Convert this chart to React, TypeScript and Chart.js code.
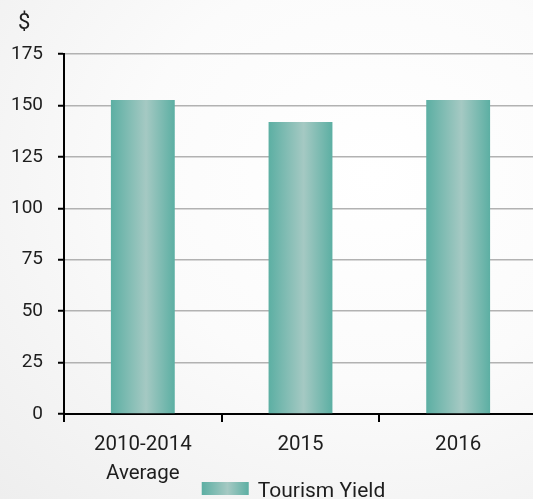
import { useEffect, useRef } from "react";
import { Chart, registerables } from "chart.js";

Chart.register(...registerables);

const categories: (string | string[])[] = [["2010-2014", "Average"], "2015", "2016"];
const yieldValues = [152.6, 141.9, 152.6];
const seriesLabel = "Tourism Yield";
const yUnit = "$";
const yMax = 175;
const yStep = 25;

const EDGE = "#5cafa3";
const MID = "#a5c9c3";
const BAR_PCT = 0.405;
const FONT = "Roboto";
const TEXT = "#1e1e1e";

function makeGradient(ctx: CanvasRenderingContext2D, x0: number, x1: number) {
  const g = ctx.createLinearGradient(x0, 0, x1, 0);
  g.addColorStop(0, EDGE);
  g.addColorStop(0.55, MID);
  g.addColorStop(1, EDGE);
  return g;
}

const overlay = {
  id: "overlay",
  afterDraw(chart: any) {
    const ctx = chart.ctx as CanvasRenderingContext2D;
    const area = chart.chartArea;
    const xs = chart.scales.x;
    ctx.save();
    // category boundary ticks below the x axis
    const catW = xs.width / categories.length;
    ctx.strokeStyle = "#000";
    ctx.lineWidth = 2;
    for (let i = 0; i < categories.length; i++) {
      const x = Math.round(xs.getPixelForValue(i) - catW / 2);
      ctx.beginPath();
      ctx.moveTo(x, area.bottom);
      ctx.lineTo(x, area.bottom + 8);
      ctx.stroke();
    }
    ctx.fillStyle = TEXT;
    ctx.font = `22px ${FONT}`;
    ctx.textBaseline = "alphabetic";
    ctx.textAlign = "left";
    ctx.fillText(yUnit, 18, 29);
    // legend
    ctx.font = `21px ${FONT}`;
    const tw = ctx.measureText(seriesLabel).width;
    const boxW = 47, boxH = 13, gap = 9;
    const total = boxW + gap + tw;
    const cx = (area.left + area.right) / 2 - 7;
    const x0 = cx - total / 2;
    const by = 482;
    ctx.fillStyle = makeGradient(ctx, x0, x0 + boxW);
    ctx.fillRect(x0, by, boxW, boxH);
    ctx.fillStyle = TEXT;
    ctx.fillText(seriesLabel, x0 + boxW + gap, 497);
    ctx.restore();
  },
};

export default function App() {
  const ref = useRef<HTMLCanvasElement | null>(null);
  useEffect(() => {
    if (!ref.current) return;
    const chart = new Chart(ref.current, {
      type: "bar",
      data: {
        labels: categories,
        datasets: [
          {
            label: seriesLabel,
            data: yieldValues,
            barPercentage: BAR_PCT,
            categoryPercentage: 1,
            backgroundColor: (c: any) => {
              const ch = c.chart;
              const xs = ch.scales?.x;
              if (!xs || c.dataIndex == null || !xs.width) return EDGE;
              const center = xs.getPixelForValue(c.dataIndex);
              const w = (xs.width / categories.length) * BAR_PCT;
              return makeGradient(ch.ctx, center - w / 2, center + w / 2);
            },
            borderWidth: 0,
          },
        ],
      },
      options: {
        responsive: false,
        animation: false,
        layout: { padding: { top: 54, right: 0, bottom: 0, left: 0 } },
        plugins: {
          legend: { display: false },
          tooltip: { enabled: false },
        },
        scales: {
          x: {
            afterFit: (s: any) => {
              s.height = 85;
            },
            border: { display: true, color: "#000", width: 2 },
            grid: {
              display: false,
              drawOnChartArea: false,
              drawTicks: false,
              tickLength: 8,
              offset: true,
            },
            ticks: {
              color: TEXT,
              font: { family: FONT, size: 20.5, lineHeight: 1.4 },
              padding: 17,
              maxRotation: 0,
            },
          },
          y: {
            min: 0,
            max: yMax,
            afterFit: (s: any) => {
              s.width = 64;
            },
            border: { color: "#000", width: 2 },
            grid: {
              color: "#b2b2b2",
              lineWidth: 1.5,
              tickLength: 6,
              tickColor: "#000",
              tickWidth: 2,
            },
            ticks: {
              stepSize: yStep,
              color: TEXT,
              font: { family: FONT, size: 19 },
              padding: 15,
            },
          },
        },
      },
      plugins: [overlay],
    });
    return () => chart.destroy();
  }, []);
  return (
    <div
      style={{
        position: "absolute",
        left: 0,
        top: 0,
        width: 533,
        height: 499,
        overflow: "hidden",
        background:
          "radial-gradient(ellipse at 70% 35%, #ffffff 0%, #fbfbfb 45%, #eeeeee 100%)",
      }}
    >
      <canvas ref={ref} width={537} height={499} style={{ display: "block" }} />
    </div>
  );
}
